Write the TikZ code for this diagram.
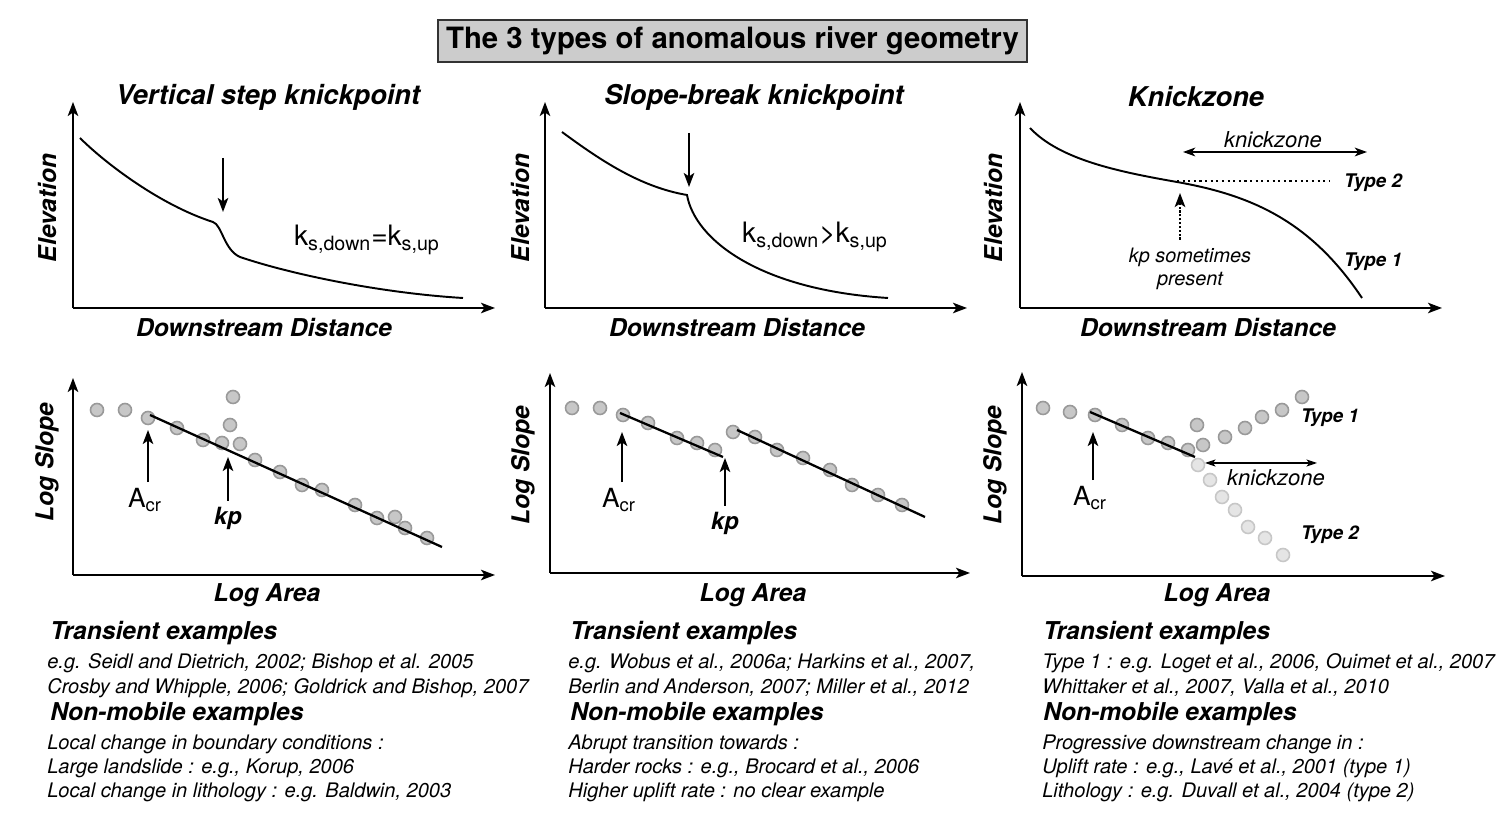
\documentclass[tikz,border=0pt]{standalone}
\usepackage{fontspec}
\setmainfont{TeX Gyre Heros}
\usetikzlibrary{arrows.meta,positioning}
\newcommand{\fsz}[1]{\fontsize{#1}{#1}\selectfont}

\begin{document}
\begin{tikzpicture}[x=0.02cm,y=-0.02cm,
  axis/.style={-{Stealth[length=8pt,width=6pt,inset=2pt]},line width=0.9pt},
  pointer/.style={-{Stealth[length=8pt,width=6pt,inset=2pt]},line width=1pt},
  profile/.style={line width=1.1pt},
  fitline/.style={line width=1.3pt},
  dot/.style={fill=black!22,draw=black!40,line width=0.9pt},
  faintdot/.style={fill=black!10,draw=black!22,line width=0.9pt},
  ttl/.style={font=\fsz{15.5}\bfseries\itshape},
  lbl/.style={font=\fsz{14}\bfseries\itshape},
  ks/.style={font=\fsz{16}},
  acr/.style={font=\fsz{15}},
  kp/.style={font=\fsz{13.5}\bfseries\itshape},
  typ/.style={font=\fsz{10.7}\bfseries\itshape},
  note/.style={font=\fsz{12.5}\itshape},
  head/.style={font=\fsz{14}\bfseries\itshape,anchor=base west,inner sep=0pt},
  body/.style={font=\fsz{11.4}\itshape,anchor=base west,inner sep=0pt}]
  \useasboundingbox (0,0) rectangle (1502,830);

  % Title
  \node[draw=black!80,fill=black!20,line width=1pt,minimum width=11.78cm,minimum height=0.84cm,
    font=\fsz{16.7}\bfseries] (title) at (732.5,41) {The 3 types of anomalous river geometry};

  % ---------------- Vertical step knickpoint ----------------
  \node[ttl] (t1) at (268,97) {Vertical step knickpoint};
  \draw[axis] (73,308) -- (73,102);
  \draw[axis] (73,308) -- (495,308);
  \node[lbl,rotate=90] (el1) at (47,208) {Elevation};
  \node[lbl] (dd1) at (264,328) {Downstream Distance};
  \draw[profile] (80,138) .. controls (105,163) and (160,205) .. (213,222)
    .. controls (222,225) and (224,250) .. (240,257)
    .. controls (290,274) and (380,293) .. (463,298);
  \coordinate (kp1top) at (223,158);
  \coordinate (kp1bot) at (223,212);
  \draw[pointer] (kp1top) -- (kp1bot);
  \node[ks] (ks1) at (367,240) {k\textsubscript{s,down}=k\textsubscript{s,up}};

  % slope-area
  \draw[axis] (73,575) -- (73,378);
  \draw[axis] (73,575) -- (495,575);
  \node[lbl,rotate=90] (ls1) at (47,462) {Log Slope};
  \node[lbl] (la1) at (267,595) {Log Area};
  \foreach \px/\py in {97/410,125/410,148/418,177/428,203/440,222/443,240/444,230/425,233/397,
    255/460,280/472,302/485,322/490,355/505,377/518,395/517,405/528,427/538}
    \filldraw[dot] (\px,\py) circle (0.13cm);
  \draw[fitline] (150,415) -- (442,547);
  \node[acr] (acr1) at (145,500) {A\textsubscript{cr}};
  \coordinate (acr1tip) at (148,430);
  \draw[pointer] (acr1.north -| acr1tip) -- (acr1tip);
  \node[kp] (kp1) at (228,518) {kp};
  \coordinate (kp1tip) at (228,457);
  \draw[pointer] (kp1.north) -- (kp1tip);

  % ---------------- Slope-break knickpoint ----------------
  \node[ttl] (t2) at (754,97) {Slope-break knickpoint};
  \draw[axis] (545,308) -- (545,102);
  \draw[axis] (545,308) -- (967,308);
  \node[lbl,rotate=90] (el2) at (520,208) {Elevation};
  \node[lbl] (dd2) at (737,328) {Downstream Distance};
  \draw[profile] (562,132) .. controls (600,160) and (640,187) .. (687,195)
    .. controls (695,240) and (760,290) .. (888,298);
  \coordinate (kp2top) at (689,133);
  \coordinate (kp2bot) at (689,187);
  \draw[pointer] (kp2top) -- (kp2bot);
  \node[ks] (ks2) at (815,237) {k\textsubscript{s,down}>k\textsubscript{s,up}};

  % slope-area
  \draw[axis] (550,573) -- (550,373);
  \draw[axis] (550,573) -- (970,573);
  \node[lbl,rotate=90] (ls2) at (523,465) {Log Slope};
  \node[lbl] (la2) at (753,595) {Log Area};
  \foreach \px/\py in {572/408,600/408,623/415,648/423,677/438,697/443,715/450,
    733/432,755/437,777/450,803/458,830/470,852/485,878/495,902/505}
    \filldraw[dot] (\px,\py) circle (0.13cm);
  \draw[fitline] (620,413) -- (723,457);
  \draw[fitline] (737,430) -- (925,517);
  \node[acr] (acr2) at (619,500) {A\textsubscript{cr}};
  \coordinate (acr2tip) at (622,432);
  \draw[pointer] (acr2.north -| acr2tip) -- (acr2tip);
  \node[kp] (kp2) at (725,523) {kp};
  \coordinate (kp2tip) at (725,458);
  \draw[pointer] (kp2.north) -- (kp2tip);

  % ---------------- Knickzone ----------------
  \node[ttl] (t3) at (1196,97) {Knickzone};
  \draw[axis] (1020,308) -- (1020,102);
  \draw[axis] (1020,308) -- (1442,308);
  \node[lbl,rotate=90] (el3) at (993,208) {Elevation};
  \node[lbl] (dd3) at (1208,328) {Downstream Distance};
  \draw[profile] (1030,128) .. controls (1060,160) and (1120,172) .. (1177,182)
    .. controls (1250,195) and (1310,220) .. (1362,298);
  \coordinate (kz2) at (1177,181);
  \coordinate (kz2end) at (1330,181);
  \draw[dotted,line width=1.2pt] (kz2) -- (kz2end);
  \node[typ,anchor=west] (ty2a) at (1338,183) {Type 2};
  \node[typ,anchor=west] (ty1a) at (1338,262) {Type 1};
  \coordinate (kzl) at (1183,152);
  \coordinate (kzr) at (1367,152);
  \draw[{Stealth[length=7pt,width=5pt,inset=2pt]}-{Stealth[length=7pt,width=5pt,inset=2pt]},line width=1pt] (kzl) -- (kzr);
  \node[note] (kzt) at (1273,140) {knickzone};
  \node[note,align=center,inner sep=0pt,font=\fsz{11.3}\itshape] (kpst) at (1190,269) {kp sometimes\\[2pt]present};
  \coordinate (kpstip) at (1180,193);
  \draw[densely dotted,line width=1.2pt,-{Stealth[length=8pt,width=6pt,inset=2pt]}] (kpst.north -| kpstip) ++(0,-8) -- (kpstip);

  % slope-area
  \draw[axis] (1022,576) -- (1022,372);
  \draw[axis] (1022,576) -- (1445,576);
  \node[lbl,rotate=90] (ls3) at (995,465) {Log Slope};
  \node[lbl] (la3) at (1217,595) {Log Area};
  \foreach \px/\py in {1198/465,1210/480,1222/497,1235/510,1248/527,1265/538,1283/555}
    \filldraw[faintdot] (\px,\py) circle (0.13cm);
  \foreach \px/\py in {1043/408,1070/412,1095/415,1122/425,1148/438,1168/443,1188/450,
    1197/425,1203/445,1225/437,1245/428,1262/417,1282/410,1302/397}
    \filldraw[dot] (\px,\py) circle (0.13cm);
  \draw[fitline] (1090,412) -- (1195,457);
  \node[acr] (acr3) at (1090,498) {A\textsubscript{cr}};
  \coordinate (acr3tip) at (1093,432);
  \draw[pointer] (acr3.north -| acr3tip) -- (acr3tip);
  \coordinate (kzbl) at (1205,463);
  \coordinate (kzbr) at (1317,463);
  \draw[{Stealth[length=6pt,width=4pt,inset=1.5pt]}-{Stealth[length=6pt,width=4pt,inset=1.5pt]},line width=0.6pt] (kzbl) -- (kzbr);
  \node[note] (kzbt) at (1276,478) {knickzone};
  \node[typ] (ty1b) at (1330,418) {Type 1};
  \node[typ] (ty2b) at (1330,535) {Type 2};

  % ---------------- Examples ----------------
  \node[head] (tr1) at (50,640) {Transient examples};
  \node[body] (tr1a) at (47,669) {e.g. Seidl and Dietrich, 2002; Bishop et al. 2005};
  \node[body] (tr1b) at (47,694) {Crosby and Whipple, 2006; Goldrick and Bishop, 2007};
  \node[head] (nm1) at (50,721) {Non-mobile examples};
  \node[body] (nm1a) at (47,750) {Local change in boundary conditions :};
  \node[body] (nm1b) at (47,774) {Large landslide : e.g., Korup, 2006};
  \node[body] (nm1c) at (47,798) {Local change in lithology : e.g. Baldwin, 2003};

  \node[head] (tr2) at (570,640) {Transient examples};
  \node[body] (tr2a) at (568,669) {e.g. Wobus et al., 2006a; Harkins et al., 2007,};
  \node[body] (tr2b) at (568,694) {Berlin and Anderson, 2007; Miller et al., 2012};
  \node[head] (nm2) at (570,721) {Non-mobile examples};
  \node[body] (nm2a) at (568,750) {Abrupt transition towards :};
  \node[body] (nm2b) at (568,774) {Harder rocks : e.g., Brocard et al., 2006};
  \node[body] (nm2c) at (568,798) {Higher uplift rate : no clear example};

  \node[head] (tr3) at (1043,640) {Transient examples};
  \node[body] (tr3a) at (1042,669) {Type 1 : e.g. Loget et al., 2006, Ouimet et al., 2007};
  \node[body] (tr3b) at (1042,694) {Whittaker et al., 2007, Valla et al., 2010};
  \node[head] (nm3) at (1043,721) {Non-mobile examples};
  \node[body] (nm3a) at (1042,750) {Progressive downstream change in :};
  \node[body] (nm3b) at (1042,774) {Uplift rate : e.g., Lavé et al., 2001 (type 1)};
  \node[body] (nm3c) at (1042,798) {Lithology : e.g. Duvall et al., 2004 (type 2)};
\end{tikzpicture}
\end{document}
